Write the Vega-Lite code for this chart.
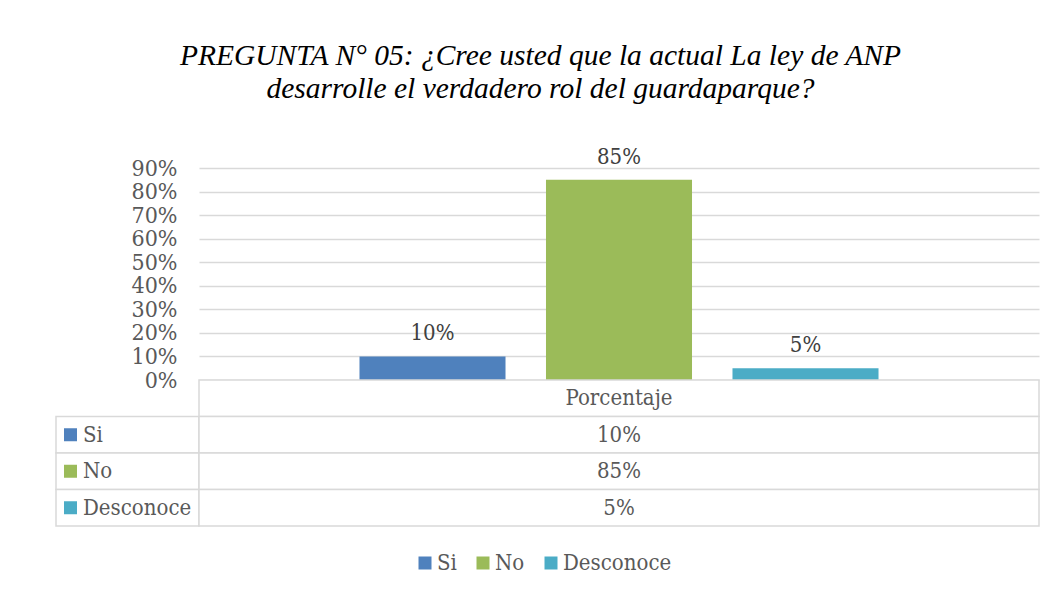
{
  "$schema": "https://vega.github.io/schema/vega-lite/v6.json",
  "background": "white",
  "padding": {"left": 55, "top": 40, "right": 10, "bottom": 10},
  "title": {
    "text": ["PREGUNTA N° 05: ¿Cree usted que la actual La ley de ANP", "desarrolle el verdadero rol del guardaparque?"],
    "font": "Liberation Serif",
    "fontStyle": "italic",
    "fontWeight": "normal",
    "fontSize": 29.5,
    "lineHeight": 33,
    "color": "#000000",
    "anchor": "middle",
    "dx": -7,
    "offset": 41.5
  },
  "datasets": {
    "respuestas": [
      {"respuesta": "Si", "porcentaje": 0.10},
      {"respuesta": "No", "porcentaje": 0.85},
      {"respuesta": "Desconoce", "porcentaje": 0.05}
    ],
    "encabezado": [
      {"fila": "Porcentaje"}
    ]
  },
  "columns": 2,
  "spacing": 0,
  "bounds": "flush",
  "concat": [
    {
      "width": 143,
      "height": 212,
      "data": {"values": [{"vacio": ""}]},
      "mark": {"type": "text"},
      "encoding": {"text": {"field": "vacio"}}
    },
    {
      "width": 840,
      "height": 212,
      "data": {"name": "respuestas"},
      "encoding": {
        "x": {
          "field": "respuesta",
          "type": "nominal",
          "sort": ["Si", "No", "Desconoce"],
          "scale": {"paddingInner": 0.217, "paddingOuter": 0.8605},
          "axis": null
        },
        "y": {
          "field": "porcentaje",
          "type": "quantitative",
          "scale": {"domain": [0, 0.9], "nice": false},
          "axis": {
            "title": null,
            "format": ".0%",
            "values": [0, 0.1, 0.2, 0.3, 0.4, 0.5, 0.6, 0.7, 0.8, 0.9],
            "domain": false,
            "ticks": false,
            "grid": true,
            "gridColor": "#d9d9d9",
            "gridWidth": 1.5,
            "labelFont": "DejaVu Serif Condensed, DejaVu Serif",
            "labelFontSize": 23,
            "labelColor": "#595959",
            "labelPadding": 22,
            "labelOverlap": false,
            "labelBound": false
          }
        }
      },
      "layer": [
        {
          "mark": {"type": "bar"},
          "encoding": {
            "color": {
              "field": "respuesta",
              "type": "nominal",
              "scale": {"domain": ["Si", "No", "Desconoce"], "range": ["#4f81bd", "#9bbb59", "#4bacc6"]},
              "legend": {
                "title": null,
                "orient": "none",
                "direction": "horizontal",
                "legendX": 358,
                "legendY": 384
              }
            }
          }
        },
        {
          "mark": {
            "type": "text",
            "baseline": "alphabetic",
            "dy": -16,
            "font": "DejaVu Serif Condensed, DejaVu Serif",
            "fontSize": 22,
            "color": "#404040"
          },
          "encoding": {
            "text": {"field": "porcentaje", "type": "quantitative", "format": ".0%"}
          }
        }
      ]
    },
    {
      "width": 143,
      "height": 146,
      "data": {"name": "respuestas"},
      "encoding": {
        "y": {
          "field": "respuesta",
          "type": "nominal",
          "scale": {"domain": ["Porcentaje", "Si", "No", "Desconoce"], "paddingInner": 0, "paddingOuter": 0},
          "axis": null
        }
      },
      "layer": [
        {
          "mark": {"type": "rect", "fill": "white", "stroke": "#d9d9d9", "strokeWidth": 1.5}
        },
        {
          "mark": {"type": "square", "size": 169, "opacity": 1},
          "encoding": {
            "x": {"datum": "columna", "type": "nominal", "scale": {"type": "band", "paddingInner": 0, "paddingOuter": 0}, "bandPosition": 0, "axis": null},
            "xOffset": {"value": 14.5},
            "color": {"field": "respuesta", "type": "nominal"}
          }
        },
        {
          "mark": {
            "type": "text",
            "align": "left",
            "baseline": "middle",
            "dx": 27,
            "font": "DejaVu Serif Condensed, DejaVu Serif",
            "fontSize": 22,
            "color": "#595959"
          },
          "encoding": {
            "x": {"datum": "columna", "type": "nominal", "scale": {"type": "band", "paddingInner": 0, "paddingOuter": 0}, "bandPosition": 0, "axis": null},
            "text": {"field": "respuesta"}
          }
        }
      ]
    },
    {
      "width": 840,
      "height": 146,
      "layer": [
        {
          "data": {"name": "encabezado"},
          "encoding": {
            "y": {
              "field": "fila",
              "type": "nominal",
              "scale": {"domain": ["Porcentaje", "Si", "No", "Desconoce"], "paddingInner": 0, "paddingOuter": 0},
              "axis": null
            }
          },
          "layer": [
            {"mark": {"type": "rect", "fill": "white", "stroke": "#d9d9d9", "strokeWidth": 1.5}},
            {
              "mark": {
                "type": "text",
                "baseline": "middle",
                "font": "DejaVu Serif Condensed, DejaVu Serif",
                "fontSize": 22,
                "color": "#595959"
              },
              "encoding": {"text": {"field": "fila"}}
            }
          ]
        },
        {
          "data": {"name": "respuestas"},
          "encoding": {
            "y": {"field": "respuesta", "type": "nominal", "axis": null}
          },
          "layer": [
            {"mark": {"type": "rect", "fill": "white", "stroke": "#d9d9d9", "strokeWidth": 1.5}},
            {
              "mark": {
                "type": "text",
                "baseline": "middle",
                "font": "DejaVu Serif Condensed, DejaVu Serif",
                "fontSize": 22,
                "color": "#595959"
              },
              "encoding": {"text": {"field": "porcentaje", "type": "quantitative", "format": ".0%"}}
            }
          ]
        }
      ]
    }
  ],
  "config": {
    "view": {"stroke": null},
    "legend": {
      "symbolType": "square",
      "symbolSize": 169,
      "symbolStrokeWidth": 0,
      "labelFont": "DejaVu Serif Condensed, DejaVu Serif",
      "labelFontSize": 22,
      "labelColor": "#595959",
      "labelOffset": 1,
      "columnPadding": 15,
      "symbolOffset": 0
    }
  }
}
